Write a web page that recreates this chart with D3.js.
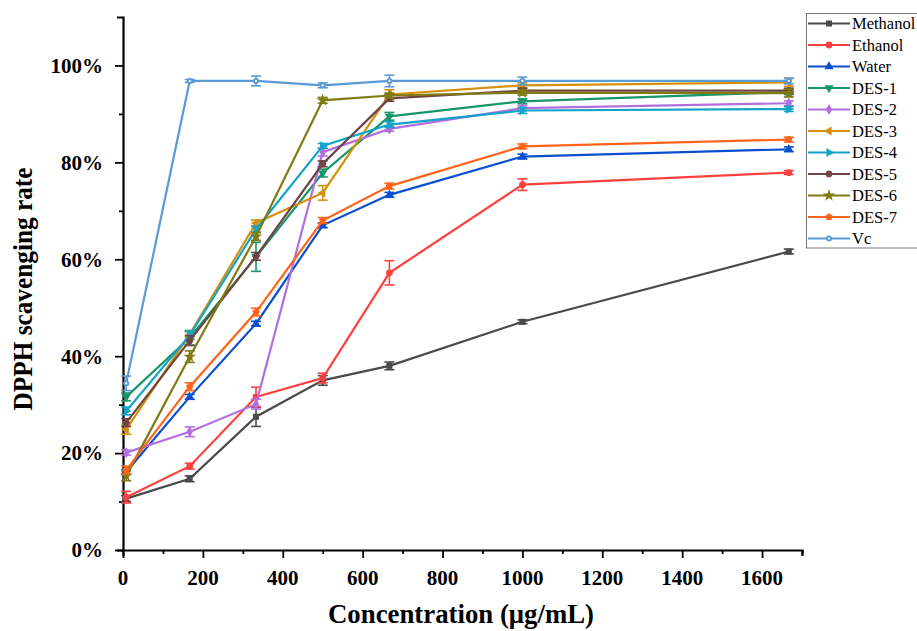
<!DOCTYPE html>
<html><head><meta charset="utf-8">
<script src="https://cdn.jsdelivr.net/npm/d3@7"></script>
<style>body{margin:0;background:#fff}svg{display:block}text{font-family:"Liberation Serif","Times New Roman",serif}</style>
</head><body><svg id="c" width="917" height="631"></svg>
<script>
const concentrations = [8, 167, 333, 500, 667, 1000, 1667];
const seriesNames = ["Methanol","Ethanol","Water","DES-1","DES-2","DES-3","DES-4","DES-5","DES-6","DES-7","Vc"];
const methanol = [10.6, 14.7, 27.5, 35.0, 38.0, 47.1, 61.6];
const ethanol  = [10.9, 17.3, 31.6, 35.5, 57.2, 75.4, 77.9];
const water    = [16.1, 31.6, 46.7, 67.0, 73.3, 81.2, 82.7];
const des1     = [31.6, 43.8, 60.5, 77.8, 89.5, 92.6, 94.5];
const des2     = [20.1, 24.4, 30.1, 82.1, 86.9, 91.2, 92.2];
const des3     = [24.9, 44.5, 67.5, 73.7, 94.0, 95.9, 96.5];
const des4     = [28.7, 44.3, 66.2, 83.4, 87.8, 90.7, 91.0];
const des5     = [26.3, 43.2, 60.6, 79.7, 93.2, 94.8, 94.8];
const des6     = [15.3, 39.9, 64.7, 92.8, 93.8, 94.4, 94.3];
const des7     = [16.5, 33.7, 49.1, 68.0, 75.1, 83.3, 84.7];
const vc       = [34.4, 96.8, 96.8, 95.9, 96.8, 96.8, 96.8];
const errMethanol = [0.6, 0.6, 2.0, 1.0, 0.8, 0.4, 0.5];
const errEthanol  = [1.2, 0.6, 2.0, 1.0, 2.5, 1.2, 0.4];
const errWater    = [0.5, 0.5, 0.5, 0.5, 0.5, 0.5, 0.5];
const errDes1     = [0.8, 1.5, 3.0, 0.8, 0.8, 0.5, 0.5];
const errDes2     = [0.5, 1.0, 1.0, 0.8, 0.5, 0.5, 0.5];
const errDes3     = [1.0, 0.6, 0.6, 1.5, 1.0, 0.5, 0.8];
const errDes4     = [0.8, 0.8, 0.6, 0.5, 0.6, 0.6, 0.5];
const errDes5     = [0.8, 1.0, 0.8, 0.6, 0.6, 0.5, 0.5];
const errDes6     = [1.0, 1.2, 0.8, 0.6, 0.5, 0.5, 0.8];
const errDes7     = [0.8, 0.8, 0.8, 0.6, 0.6, 0.5, 0.5];
const errVc       = [1.5, 0.3, 1.0, 0.5, 1.2, 0.8, 0.6];
const yTicks = [0, 20, 40, 60, 80, 100];
const xTicks = [0, 200, 400, 600, 800, 1000, 1200, 1400, 1600];

const values = [methanol, ethanol, water, des1, des2, des3, des4, des5, des6, des7, vc];
const errors = [errMethanol, errEthanol, errWater, errDes1, errDes2, errDes3, errDes4, errDes5, errDes6, errDes7, errVc];
const colors = ["#4a4a4a","#ff4040","#0a4fd0","#16966a","#b36ee0","#d6900c","#12a4c8","#6e4444","#7f7a12","#ff6418","#5b9bd5"];
const symbols = [d3.symbolSquare, d3.symbolCircle, d3.symbolTriangle, "tdown", d3.symbolDiamond, "tleft", "tright", "hex", d3.symbolStar, "pent", "vc"];

const svg = d3.select("#c");
const L = 123, R = 802, T = 17, B = 550;
const x = d3.scaleLinear().domain([0, 1700]).range([L, R]);
const y = d3.scaleLinear().domain([0, 110]).range([B, T]);

// axes
const gx = svg.append("g").attr("transform", `translate(0,${B})`)
  .call(d3.axisBottom(x).tickValues(d3.range(0, 1701, 100)).tickSize(6).tickFormat(""));
gx.selectAll(".tick line").attr("y2", d => d % 200 === 0 ? 8 : 4);
const gy = svg.append("g").attr("transform", `translate(${L},0)`)
  .call(d3.axisLeft(y).tickValues(d3.range(0, 101, 10)).tickSize(6).tickFormat(""));
gy.selectAll(".tick line").attr("x2", d => d % 20 === 0 ? -8 : -4);
[gx, gy].forEach(g => { g.select(".domain").attr("stroke", "#000").attr("stroke-width", 2.2);
  g.selectAll(".tick line").attr("stroke", "#000").attr("stroke-width", 1.8); });

svg.selectAll(".ylab").data(yTicks).join("text").attr("class","ylab")
  .attr("x", 103).attr("y", d => y(d)).attr("dy", "0.35em").attr("text-anchor","end")
  .attr("font-weight","bold").attr("font-size", 21).text(d => d + "%");
svg.selectAll(".xlab").data(xTicks).join("text").attr("class","xlab")
  .attr("x", d => x(d)).attr("y", 585).attr("text-anchor","middle")
  .attr("font-weight","bold").attr("font-size", 21).text(d => d);

svg.append("text").attr("x", 461).attr("y", 623).attr("text-anchor","middle")
  .attr("font-weight","bold").attr("font-size", 28)
  .attr("textLength", 266).attr("lengthAdjust","spacingAndGlyphs").text("Concentration (μg/mL)");
svg.append("text").attr("transform","translate(32,289) rotate(-90)").attr("text-anchor","middle")
  .attr("font-weight","bold").attr("font-size", 28)
  .attr("textLength", 243).attr("lengthAdjust","spacingAndGlyphs").text("DPPH scavenging rate");

function marker(g, s, c, sz) {
  const r = sz;
  if (typeof s !== "string") {
    g.append("path").attr("d", d3.symbol(s, s === d3.symbolStar ? r*r*1.6 : r*r*1.2)()).attr("fill", c);
  } else if (s === "tdown") {
    g.append("path").attr("d", d3.symbol(d3.symbolTriangle, r*r*1.2)()).attr("transform","rotate(180)").attr("fill", c);
  } else if (s === "tleft") {
    g.append("path").attr("d", d3.symbol(d3.symbolTriangle, r*r*1.2)()).attr("transform","rotate(-90)").attr("fill", c);
  } else if (s === "tright") {
    g.append("path").attr("d", d3.symbol(d3.symbolTriangle, r*r*1.2)()).attr("transform","rotate(90)").attr("fill", c);
  } else if (s === "hex") {
    const pts = d3.range(6).map(i => [r*0.7*Math.cos(Math.PI/3*i), r*0.7*Math.sin(Math.PI/3*i)]);
    g.append("polygon").attr("points", pts.join(" ")).attr("fill", c);
  } else if (s === "pent") {
    const pts = d3.range(5).map(i => [r*0.7*Math.sin(2*Math.PI/5*i), -r*0.7*Math.cos(2*Math.PI/5*i)]);
    g.append("polygon").attr("points", pts.join(" ")).attr("fill", c);
  } else if (s === "vc") {
    g.append("circle").attr("r", r*0.55).attr("fill", c);
    g.append("circle").attr("r", r*0.2).attr("fill", "#fff");
  }
}

const line = d3.line().x(d => x(d[0])).y(d => y(d[1]));
const plot = svg.append("g");
values.forEach((vals, i) => {
  const g = plot.append("g");
  const pts = concentrations.map((c, j) => [c, vals[j], errors[i][j]]);
  g.append("path").attr("d", line(pts)).attr("fill","none").attr("stroke", colors[i]).attr("stroke-width", 2.2);
  pts.forEach(p => {
    const eg = g.append("g").attr("stroke", colors[i]).attr("stroke-width", 1.6);
    eg.append("line").attr("x1", x(p[0])).attr("x2", x(p[0])).attr("y1", y(p[1]-p[2])).attr("y2", y(p[1]+p[2]));
    [p[1]-p[2], p[1]+p[2]].forEach(v => eg.append("line").attr("x1", x(p[0])-5).attr("x2", x(p[0])+5).attr("y1", y(v)).attr("y2", y(v)));
    const mg = g.append("g").attr("transform", `translate(${x(p[0])},${y(p[1])})`);
    marker(mg, symbols[i], colors[i], 5.5);
  });
});

// legend
const lg = svg.append("g");
lg.append("rect").attr("x", 806.5).attr("y", 13.5).attr("width", 112).attr("height", 234.5)
  .attr("fill","#fff").attr("stroke","#777").attr("stroke-width",1);
seriesNames.forEach((n, i) => {
  const yy = 23.5 + i * 21.5;
  lg.append("line").attr("x1", 808).attr("x2", 850).attr("y1", yy).attr("y2", yy).attr("stroke", colors[i]).attr("stroke-width", 2.2);
  const mg = lg.append("g").attr("transform", `translate(829,${yy})`);
  marker(mg, symbols[i], colors[i], 5.5);
  lg.append("text").attr("x", 852).attr("y", yy).attr("dy","0.35em").attr("font-size", 16.5).text(n);
});
</script></body></html>
